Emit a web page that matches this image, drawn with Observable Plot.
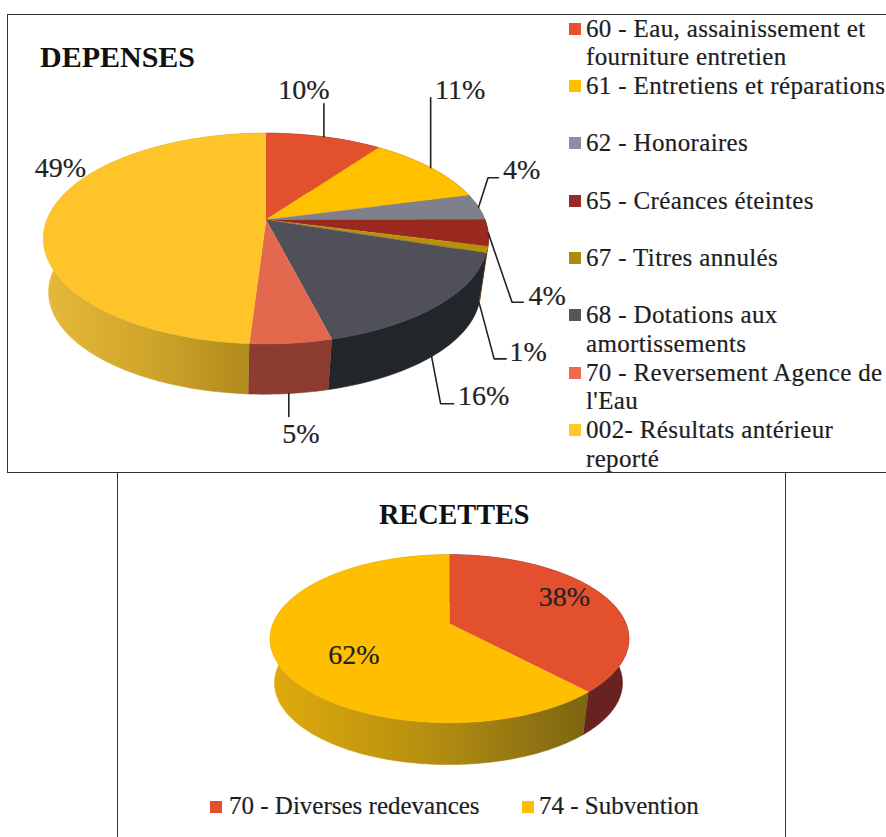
<!DOCTYPE html>
<html lang="fr">
<head>
<meta charset="utf-8">
<title>Dépenses et recettes</title>
<script src="https://cdn.jsdelivr.net/npm/d3@7"></script>
<script src="https://cdn.jsdelivr.net/npm/@observablehq/plot@0.6"></script>
<style>
  html, body { margin: 0; padding: 0; background: #fff; }
  #page { position: relative; width: 886px; height: 837px; overflow: hidden; font-family: "Liberation Serif", serif; color: #1d1d1f; }
  .box { position: absolute; box-sizing: border-box; border: 1.5px solid #333; }
  .plot { position: absolute; }
  .plot svg { display: block; overflow: visible; background: transparent; }
  .title { position: absolute; font-weight: bold; font-size: 30px; line-height: 34px; color: #111; white-space: nowrap; transform-origin: left center; }
  .legend-entry { position: absolute; font-size: 25px; line-height: 28.67px; white-space: nowrap; -webkit-text-stroke: 0.2px #1d1d1f; }
  .swatch { position: absolute; width: 12px; height: 12px; box-sizing: border-box; }
</style>
</head>
<body>
<div id="page"></div>
<script>
// ---------- DEPENSES data ----------
const depCodes = ["60", "61", "62", "65", "67", "68", "70", "002"];
const depValues = [10, 11, 4, 4, 1, 16, 5, 49];
const depLegend = [
  ["60 - Eau, assainissement et", "fourniture entretien"],
  ["61 - Entretiens et réparations"],
  ["62 - Honoraires"],
  ["65 - Créances éteintes"],
  ["67 - Titres annulés"],
  ["68 - Dotations aux", "amortissements"],
  ["70 - Reversement Agence de", "l'Eau"],
  ["002- Résultats antérieur", "reporté"]
];

// ---------- RECETTES data ----------
const recCodes = ["70", "74"];
const recValues = [38, 62];
const recLegend = ["70 - Diverses redevances", "74 - Subvention"];

// ---------- styles ----------
const depTop = ["#E2502E", "#FFC000", "#80808C", "#9A2A20", "#B8900A", "#50505A", "#E2694E", "#FFC42A"];
const depSwatch = ["#E8502F", "#FFC000", "#8E8EA0", "#9A2A2A", "#B08A10", "#55555A", "#EE6A50", "#FFC82A"];
const depSide = ["#7A2A18", "#9A7400", "#55555E", "#5E1A14", "#6E5608", "#22262A", "#8C3C30", "url(#depYellow)"];
const recTop = ["#E2502E", "#FFBE00"];
const recSide = ["#682220", "url(#recYellow)"];

// layout: leader offsets and label offsets, relative to each slice's rim anchor
const depLayout = [
  { rim: "top", leader: [[0, -33]], label: [-20, -47] },
  { rim: "top", leader: [[0, -70]], label: [29.5, -78] },
  { rim: "top", leader: [[9.5, -29.5], [20, -29.5]], label: [43, -37] },
  { rim: "top", leader: [[23.8, 69.4], [35, 69.4]], label: [59, 63] },
  { rim: "bottom", leader: [[15, 56], [27, 56]], label: [49, 49] },
  { rim: "bottom", leader: [[9, 47], [22, 47]], label: [52, 39] },
  { rim: "bottom", leader: [[0, 23]], label: [12, 41] },
  { rim: "top", leader: [], label: [12, -49] }
];
const recLayout = [
  { rim: "top", leader: [], label: [-39, 1] },
  { rim: "top", leader: [], label: [80, -1] }
];

const STEP = 0.25; // percent of a turn between outline points

function rimPoint(g, pct, level) {
  const t = pct / 100 * 2 * Math.PI;
  const u = Math.sin(t), v = Math.cos(t), w = 1 + g.k * v;
  return level === "top"
    ? { x: g.cx + g.b * u / w, y: g.cy - g.a * v / w }
    : { x: g.cx + g.dx + g.shrink * g.b * u / w, y: g.cy + g.depth - g.shrink * g.a * v / w };
}

function arcPcts(p0, p1) {
  const out = d3.range(p0, p1, STEP);
  out.push(p1);
  return out;
}

function gradient(id, x1, x2, stops) {
  const NS = "http://www.w3.org/2000/svg";
  const el = document.createElementNS(NS, "linearGradient");
  el.setAttribute("id", id);
  el.setAttribute("gradientUnits", "userSpaceOnUse");
  el.setAttribute("x1", x1); el.setAttribute("x2", x2);
  el.setAttribute("y1", 0); el.setAttribute("y2", 0);
  stops.forEach(([o, c]) => {
    const s = document.createElementNS(NS, "stop");
    s.setAttribute("offset", o); s.setAttribute("stop-color", c);
    el.appendChild(s);
  });
  return el;
}

function pie3d({ g, codes, values, top, side, layout, width, height, grad }) {
  let cum = 0;
  const tops = [], sides = [], leaders = [], labels = [];
  values.forEach((val, i) => {
    const p0 = cum, p1 = cum + val, mid = (p0 + p1) / 2;
    cum = p1;
    const pcts = arcPcts(p0, p1);
    // top face: apex then rim
    tops.push({ key: codes[i], fill: top[i], x: g.cx, y: g.cy });
    pcts.forEach(p => tops.push({ key: codes[i], fill: top[i], ...rimPoint(g, p, "top") }));
    // side wall: top rim forward, bottom rim back
    pcts.forEach(p => sides.push({ key: codes[i], fill: side[i], ...rimPoint(g, p, "top") }));
    pcts.slice().reverse().forEach(p => sides.push({ key: codes[i], fill: side[i], ...rimPoint(g, p, "bottom") }));
    // leader and label
    const l = layout[i];
    const a = rimPoint(g, mid, l.rim);
    if (l.leader.length) {
      leaders.push({ key: codes[i], x: a.x, y: a.y });
      l.leader.forEach(([dx, dy]) => leaders.push({ key: codes[i], x: a.x + dx, y: a.y + dy }));
    }
    labels.push({ text: `${val}%`, x: a.x + l.label[0], y: a.y + l.label[1] });
  });
  return Plot.plot({
    width, height,
    margin: 0,
    x: { domain: [0, width], range: [0, width], axis: null },
    y: { domain: [0, height], range: [0, height], axis: null },
    color: { type: "identity" },
    marks: [
      () => {
        const defs = document.createElementNS("http://www.w3.org/2000/svg", "defs");
        grad.forEach(d => defs.appendChild(gradient(...d)));
        return defs;
      },
      Plot.line(sides, { x: "x", y: "y", z: "key", fill: "fill", stroke: "fill", strokeWidth: 0.6, curve: "linear" }),
      Plot.line(tops, { x: "x", y: "y", z: "key", fill: "fill", stroke: "fill", strokeWidth: 0.4, curve: "linear" }),
      Plot.line(leaders, { x: "x", y: "y", z: "key", stroke: "#222", strokeWidth: 1.6, curve: "linear" }),
      Plot.text(labels, { x: "x", y: "y", text: "text", fontSize: 28, fill: "#222", stroke: "#222", strokeWidth: 0.2, fontFamily: "Liberation Serif, serif", textAnchor: "middle", lineAnchor: "middle" })
    ]
  });
}

const page = document.getElementById("page");
function add(cls, css, html) {
  const d = document.createElement("div");
  d.className = cls;
  Object.assign(d.style, css);
  if (html != null) d.textContent = html;
  page.appendChild(d);
  return d;
}

// frames
add("box", { left: "7px", top: "14px", width: "890px", height: "459px" });
add("box", { left: "117px", top: "472px", width: "669px", height: "380px" });

// DEPENSES
add("title", { left: "40px", top: "40px" }, "DEPENSES");
add("plot", { left: "0", top: "0" }).appendChild(pie3d({
  g: { cx: 265.5, cy: 219.3, a: 102, b: 219, k: 0.178, depth: 54, shrink: 0.97, dx: -1.5 },
  codes: depCodes, values: depValues, top: depTop, side: depSide, layout: depLayout,
  width: 570, height: 472,
  grad: [["depYellow", 47, 250, [[0, "#E6B83A"], [0.5, "#CFA52A"], [1, "#B08A1C"]]]]
}));
// legend lines: each entry occupies two rows unless it wraps on its own
const rowStart = [0, 2, 4, 6, 8, 10, 12, 14];
depLegend.forEach((lines, i) => {
  const top = 14.7 + rowStart[i] * 28.67;
  add("swatch", { left: "569px", top: `${top + 8}px`, background: depSwatch[i] });
  const e = add("legend-entry", { left: "586px", top: `${top}px`, letterSpacing: "0.35px" });
  lines.forEach((t, j) => {
    if (j) e.appendChild(document.createElement("br"));
    e.appendChild(document.createTextNode(t));
  });
});

// RECETTES
add("title", { left: "379px", top: "497px", transform: "scaleX(0.94)" }, "RECETTES");
add("plot", { left: "118px", top: "473px" }).appendChild(pie3d({
  g: { cx: 331, cy: 150.3, a: 81.4, b: 176.5, k: 0.178, depth: 44.7, shrink: 0.97, dx: -1 },
  codes: recCodes, values: recValues, top: recTop, side: recSide, layout: recLayout,
  width: 666, height: 364,
  grad: [["recYellow", 155, 475, [[0, "#DFAA0C"], [0.5, "#B48E10"], [1, "#796412"]]]]
}));
[[210, 229], [521.5, 539]].forEach(([sx, tx], i) => {
  add("swatch", { left: `${sx}px`, top: "800.5px", background: recTop[i] });
  add("legend-entry", { left: `${tx}px`, top: "792.4px" }, recLegend[i]);
});
</script>
</body>
</html>
